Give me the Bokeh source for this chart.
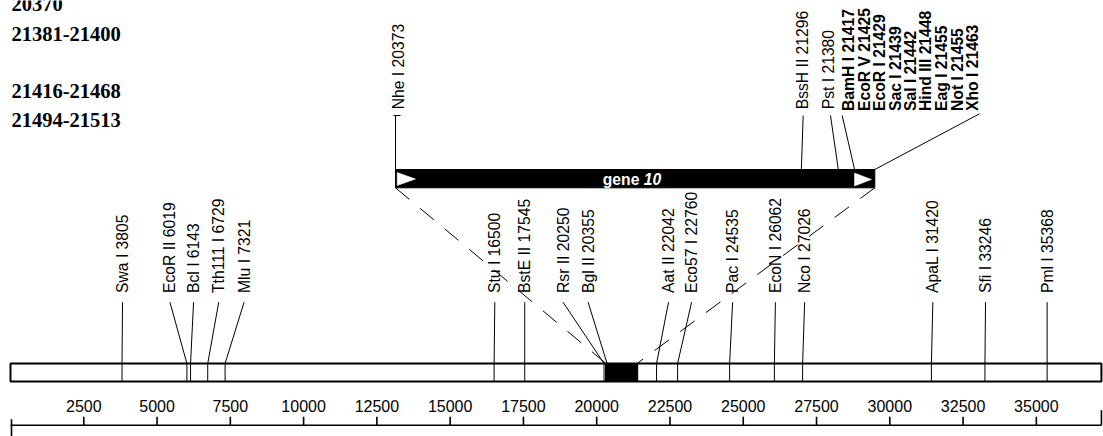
import math
from bokeh.plotting import figure
from bokeh.models import Range1d
from bokeh.core.properties import value
from bokeh.embed import file_html
from bokeh.resources import INLINE

# ---------------- data ----------------
map_length = 37220
insert_start = 20300
insert_end = 21400

map_sites = ["Swa I", "EcoR II", "Bcl I", "Tth111 I", "Mlu I", "Stu I", "BstE II",
             "Rsr II", "Bgl II", "Aat II", "Eco57 I", "Pac I", "EcoN I", "Nco I",
             "ApaL I", "Sfi I", "Pml I"]
map_pos = [3805, 6019, 6143, 6729, 7321, 16500, 17545, 20250, 20355, 22042, 22760,
           24535, 26062, 27026, 31420, 33246, 35368]

gene_label = "gene"
gene_number = "10"
gene_start = 20373
gene_end = 21463

gene_sites = ["Nhe I", "BssH II", "Pst I", "BamH I", "EcoR V", "EcoR I", "Sac I",
              "Sal I", "Hind III", "Eag I", "Not I", "Xho I"]
gene_pos = [20373, 21296, 21380, 21417, 21425, 21429, 21439, 21442, 21448, 21455,
            21455, 21463]
gene_sep = [" ", " ", " ", "  ", "  ", "  ", "  ", " ", "  ", "  ", "  ", " "]
gene_bold = [False, False, False, True, True, True, True, True, True, True, True, True]

tick_values = [2500, 5000, 7500, 10000, 12500, 15000, 17500, 20000, 22500, 25000,
               27500, 30000, 32500, 35000]
tick_labels = ["2500", "5000", "7500", "10000", "12500", "15000", "17500", "20000",
               "22500", "25000", "27500", "30000", "32500", "35000"]

corner_notes = ["20370", "21381-21400", "21416-21468", "21494-21513"]

# ---------------- layout (pixels) ----------------
W, H = 1103, 436
MAP_X0 = 10.0                      # pixel of position 0 on the map
MAP_PX_PER_BP = 0.02931
GENE_X0, GENE_X1 = 395.0, 874.3    # pixel extent of the enlarged gene bar
GENE_PX_PER_BP = (GENE_X1 - GENE_X0) / (gene_end - gene_start)


def main_bp(px):
    return (px - MAP_X0) / MAP_PX_PER_BP


def gene_bp(px):
    return gene_start + (px - GENE_X0) / GENE_PX_PER_BP


def gene_to_main(bp):
    return main_bp(GENE_X0 + (bp - gene_start) * GENE_PX_PER_BP)


def mpx(px):   # pixel offset -> map units
    return px / MAP_PX_PER_BP


def gpx(px):   # pixel offset -> gene units
    return px / GENE_PX_PER_BP


map_label_dx = [0.5, -17, 3, 11, 19, 0.7, 0, -41, -19, 12, 14, 3, 1, 2, 1.4, 0.6, 0]
gene_label_dx = [3.3, 1.6, -10.3, -5.6, 6.4, 19.6, 31.2, 44.9, 57.3, 70.2, 86.2, 97.7]
gene_line_dx = [0, 1.8, -7.8, -12.4, None, None, None, None, None, None, None, 104.7]

MAP_TOP, MAP_BOT = 363.0, 381.0
MAP_LABEL_Y = 292.5
MAP_LINE_TOP = 301.7
GENE_TOP, GENE_BOT = 169.0, 187.3
GENE_LINE_TOP = 115.0
AXIS_Y = 424.7

FONT = value("Liberation Sans")
LBL_SIZE = "15.7px"

p = figure(width=W, height=H, output_backend="svg", toolbar_location=None,
           x_axis_type=None, y_axis_type=None,
           x_range=Range1d(main_bp(0), main_bp(W)),
           y_range=Range1d(H, 0),
           min_border=0, min_border_left=0, min_border_right=0,
           min_border_top=0, min_border_bottom=0)
p.outline_line_color = None
p.background_fill_color = "white"
p.border_fill_color = "white"
p.extra_x_ranges = {"gene": Range1d(gene_bp(0), gene_bp(W))}

# ---- corner notes (vertical centres of the lines) ----
p.text(x=[main_bp(11)] * 4, y=[3.1, 33.1, 90.4, 119.8], text=corner_notes,
       text_font=value("Liberation Serif"), text_font_style="bold",
       text_font_size="20.5px", text_align="left", text_baseline="middle",
       text_color="black")

# ---- map box ----
p.quad(left=[0], right=[map_length], top=[MAP_TOP], bottom=[MAP_BOT],
       fill_color="white", line_color="black", line_width=2)
p.quad(left=[insert_start], right=[insert_end], top=[MAP_TOP], bottom=[MAP_BOT],
       fill_color="black", line_color="black", line_width=1)

# ---- map sites ----
map_lx = [pos + mpx(dx) for pos, dx in zip(map_pos, map_label_dx)]
p.multi_line(xs=[[lx, pos, pos] for lx, pos in zip(map_lx, map_pos)],
             ys=[[MAP_LINE_TOP, MAP_TOP, MAP_BOT] for _ in map_pos],
             line_color="black", line_width=1)
p.text(x=map_lx, y=[MAP_LABEL_Y] * len(map_pos),
       text=[f"{n} {v}" for n, v in zip(map_sites, map_pos)],
       angle=math.pi / 2, text_align="left", text_baseline="middle",
       text_font=FONT, text_font_size=LBL_SIZE, text_color="black")

# ---- dashed zoom connectors ----
p.segment(x0=[gene_to_main(gene_start), gene_to_main(gene_end)],
          y0=[GENE_BOT, GENE_BOT],
          x1=[insert_start, insert_end], y1=[MAP_TOP - 0.5, MAP_TOP - 0.5],
          line_color="black", line_width=1, line_dash="18 14")

# ---- gene bar ----
p.quad(left=[gene_start], right=[gene_end], top=[GENE_TOP], bottom=[GENE_BOT],
       fill_color="black", line_color="black", line_width=1, x_range_name="gene")
p.patches(xs=[[gene_start + gpx(1.7), gene_start + gpx(1.7), gene_start + gpx(20)],
              [gene_end - gpx(20.3), gene_end - gpx(20.3), gene_end - gpx(3.3)]],
          ys=[[172.0, 185.0, 178.5], [172.5, 185.5, 179.0]],
          fill_color="white", line_color="white", line_width=0.5, x_range_name="gene")
gmid = (gene_start + gene_end) / 2
p.text(x=[gmid + gpx(4.2)], y=[178.8], text=[gene_label], text_align="right",
       text_baseline="middle", text_font=FONT, text_font_style="bold",
       text_font_size=LBL_SIZE, text_color="white", x_range_name="gene")
p.text(x=[gmid + gpx(8.6)], y=[178.8], text=[gene_number], text_align="left",
       text_baseline="middle", text_font=FONT, text_font_style="bold italic",
       text_font_size=LBL_SIZE, text_color="white", x_range_name="gene")

# ---- gene sites ----
seg_x0, seg_x1, seg_y1 = [], [], []
for pos, ldx in zip(gene_pos, gene_line_dx):
    if ldx is None:
        continue
    seg_x0.append(pos)
    seg_x1.append(pos + gpx(ldx))
    seg_y1.append(GENE_LINE_TOP if ldx < 50 else GENE_LINE_TOP - 1.7)
p.segment(x0=seg_x0, y0=[GENE_TOP] * len(seg_x0), x1=seg_x1, y1=seg_y1,
          line_color="black", line_width=1, x_range_name="gene")
# small horizontal lead-in of the first label
p.segment(x0=[gene_start - gpx(2)], y0=[GENE_LINE_TOP], x1=[gene_start + gpx(5)],
          y1=[GENE_LINE_TOP], line_color="black", line_width=1, x_range_name="gene")

reg = [i for i, b in enumerate(gene_bold) if not b]
bld = [i for i, b in enumerate(gene_bold) if b]
for idxs, style, ybase in ((reg, "normal", 108.8), (bld, "bold", 110.5)):
    p.text(x=[gene_pos[i] + gpx(gene_label_dx[i]) for i in idxs],
           y=[ybase] * len(idxs),
           text=[f"{gene_sites[i]}{gene_sep[i]}{gene_pos[i]}" for i in idxs],
           angle=math.pi / 2, text_align="left", text_baseline="middle",
           text_font=FONT, text_font_style=style, text_font_size=LBL_SIZE,
           text_color="black", x_range_name="gene")

# ---- scale axis (drawn along the map) ----
p.segment(x0=[0], y0=[AXIS_Y], x1=[map_length], y1=[AXIS_Y],
          line_color="black", line_width=1.6)
p.segment(x0=tick_values, y0=[AXIS_Y - 8.5] * len(tick_values),
          x1=tick_values, y1=[AXIS_Y] * len(tick_values),
          line_color="black", line_width=1.6)
p.segment(x0=[main_bp(11), map_length], y0=[AXIS_Y - 6, AXIS_Y - 15],
          x1=[main_bp(11), map_length], y1=[AXIS_Y + 12, AXIS_Y],
          line_color="black", line_width=1.6)
p.text(x=tick_values, y=[405.3] * len(tick_values), text=tick_labels,
       text_align="center", text_baseline="middle", text_font=FONT,
       text_font_size="16px", text_color="black")

open("out.html", "w").write(file_html(p, INLINE))
